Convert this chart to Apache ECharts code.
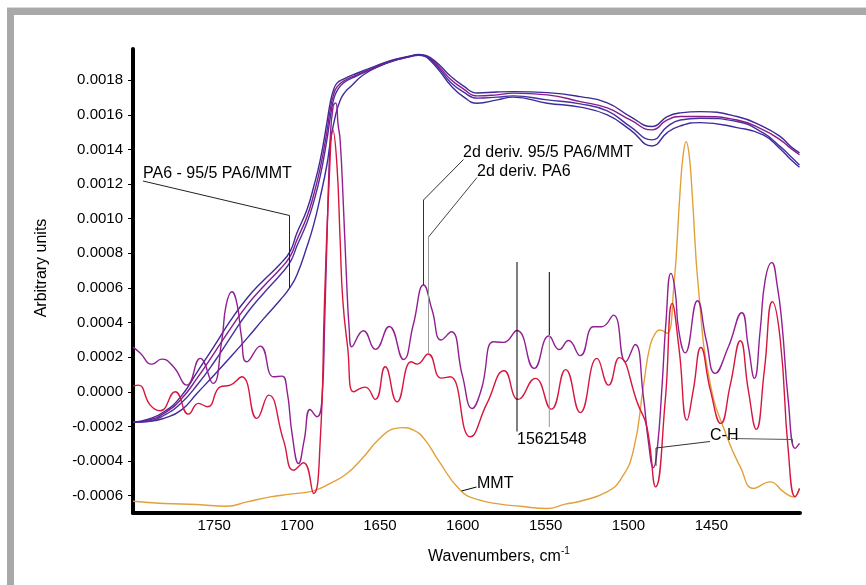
<!DOCTYPE html>
<html><head><meta charset="utf-8">
<script src="https://cdn.jsdelivr.net/npm/echarts@6/dist/echarts.min.js"></script>
<style>html,body{margin:0;padding:0;background:#fff}#c{width:866px;height:585px}</style>
</head><body><div id="c"></div>
<script>
// ---- tick labels ----
const xTicks = [1750, 1700, 1650, 1600, 1550, 1500, 1450];
const yTicks = [-0.0006, -0.0004, -0.0002, 0, 0.0002, 0.0004, 0.0006, 0.0008, 0.0010, 0.0012, 0.0014, 0.0016, 0.0018];

// ---- absorbance spectra (PA6 and 95/5 PA6/MMT) [wavenumber, value] ----
const absA = [[1798.9,-1.75e-4],[1789.8,-1.58e-4],[1780.0,-1.14e-4],[1769.9,-0.25e-4],[1760.3,1.14e-4],[1750.0,2.64e-4],[1740.0,4.14e-4],[1730.1,5.42e-4],[1720.0,6.46e-4],[1710.2,7.38e-4],[1704.1,8.13e-4],[1700.1,9.17e-4],[1694.1,10.50e-4],[1690.0,11.83e-4],[1686.0,13.39e-4],[1682.0,15.53e-4],[1680.0,16.69e-4],[1678.0,17.44e-4],[1675.9,17.83e-4],[1672.0,18.06e-4],[1663.9,18.40e-4],[1655.9,18.69e-4],[1643.8,19.13e-4],[1635.0,19.33e-4],[1631.7,19.40e-4],[1626.7,19.48e-4],[1623.0,19.44e-4],[1619.6,19.30e-4],[1613.6,18.83e-4],[1607.6,18.25e-4],[1599.7,17.67e-4],[1591.3,17.26e-4],[1579.2,17.32e-4],[1569.6,17.34e-4],[1549.0,17.28e-4],[1529.1,17.05e-4],[1512.8,16.69e-4],[1498.9,15.90e-4],[1485.8,15.32e-4],[1476.6,15.90e-4],[1468.7,16.11e-4],[1456.7,16.18e-4],[1434.5,15.90e-4],[1418.7,15.32e-4],[1408.4,14.74e-4],[1402.4,14.20e-4],[1396.8,13.80e-4]];
const absB = [[1798.9,-1.75e-4],[1789.8,-1.64e-4],[1780.0,-1.23e-4],[1769.9,-0.42e-4],[1760.3,0.79e-4],[1750.0,2.24e-4],[1740.0,3.68e-4],[1730.1,5.01e-4],[1720.0,6.11e-4],[1710.2,7.09e-4],[1704.1,7.84e-4],[1700.1,8.77e-4],[1694.1,10.10e-4],[1690.0,11.37e-4],[1686.0,12.93e-4],[1682.0,15.01e-4],[1680.0,16.28e-4],[1678.0,17.15e-4],[1675.9,17.61e-4],[1672.0,17.95e-4],[1663.9,18.31e-4],[1655.9,18.62e-4],[1643.8,19.09e-4],[1635.0,19.31e-4],[1631.7,19.38e-4],[1626.7,19.47e-4],[1623.0,19.42e-4],[1619.6,19.25e-4],[1613.6,18.71e-4],[1607.6,18.07e-4],[1599.7,17.50e-4],[1591.3,17.09e-4],[1579.2,17.15e-4],[1569.6,17.25e-4],[1549.0,17.15e-4],[1529.1,16.76e-4],[1512.8,16.40e-4],[1498.9,15.70e-4],[1485.8,15.13e-4],[1476.6,15.70e-4],[1468.7,15.90e-4],[1456.7,15.90e-4],[1434.5,15.70e-4],[1418.7,15.13e-4],[1408.4,14.55e-4],[1402.4,14.09e-4],[1396.8,13.69e-4]];
const absC = [[1798.9,-1.75e-4],[1789.8,-1.70e-4],[1780.0,-1.34e-4],[1769.9,-0.65e-4],[1760.3,0.39e-4],[1750.0,1.72e-4],[1740.0,3.16e-4],[1730.1,4.55e-4],[1720.0,5.71e-4],[1710.2,6.75e-4],[1704.1,7.50e-4],[1700.1,8.42e-4],[1694.1,9.75e-4],[1690.0,10.96e-4],[1686.0,12.47e-4],[1682.0,14.55e-4],[1680.0,15.82e-4],[1678.0,16.86e-4],[1675.9,17.38e-4],[1672.0,17.84e-4],[1663.9,18.25e-4],[1655.9,18.59e-4],[1643.8,19.06e-4],[1635.0,19.29e-4],[1631.7,19.36e-4],[1626.7,19.46e-4],[1623.0,19.40e-4],[1619.6,19.20e-4],[1613.6,18.60e-4],[1607.6,17.90e-4],[1599.7,17.32e-4],[1591.3,16.96e-4],[1579.2,17.02e-4],[1569.6,17.09e-4],[1549.0,16.86e-4],[1529.1,16.63e-4],[1512.8,16.22e-4],[1498.9,15.32e-4],[1485.8,14.55e-4],[1476.6,15.32e-4],[1468.7,15.70e-4],[1456.7,15.80e-4],[1434.5,15.61e-4],[1418.7,14.95e-4],[1408.4,14.16e-4],[1402.4,13.62e-4],[1396.8,13.10e-4]];
const absD = [[1798.9,-1.75e-4],[1789.8,-1.72e-4],[1780.0,-1.52e-4],[1769.9,-1.06e-4],[1760.3,-0.08e-4],[1750.0,0.97e-4],[1740.0,2.02e-4],[1730.1,3.10e-4],[1720.0,4.24e-4],[1710.2,5.30e-4],[1704.1,6.05e-4],[1700.1,6.75e-4],[1694.1,8.36e-4],[1690.0,9.64e-4],[1686.0,11.25e-4],[1682.0,13.10e-4],[1680.0,14.38e-4],[1677.0,15.88e-4],[1673.9,16.86e-4],[1670.9,17.32e-4],[1667.9,17.61e-4],[1659.9,18.31e-4],[1649.8,18.83e-4],[1637.7,19.23e-4],[1631.7,19.36e-4],[1626.7,19.44e-4],[1623.0,19.38e-4],[1619.6,19.13e-4],[1613.6,18.48e-4],[1607.6,17.73e-4],[1599.7,17.05e-4],[1591.3,16.67e-4],[1579.2,16.86e-4],[1569.6,17.02e-4],[1549.0,16.67e-4],[1529.1,16.44e-4],[1512.8,15.99e-4],[1498.9,15.13e-4],[1485.8,14.20e-4],[1476.6,14.97e-4],[1468.7,15.36e-4],[1456.7,15.55e-4],[1434.5,15.26e-4],[1418.7,14.84e-4],[1408.4,14.03e-4],[1402.4,13.45e-4],[1396.8,12.97e-4]];

// ---- second derivative, 95/5 PA6/MMT ----
const deriv95 = [[1798.9,2.58e-4],[1794.7,2.24e-4],[1787.6,1.60e-4],[1781.6,1.89e-4],[1774.6,1.445e-4],[1766.5,0.387e-4],[1758.4,1.93e-4],[1750.8,0.486e-4],[1745.4,2.99e-4],[1742.8,5.01e-4],[1739.3,5.78e-4],[1736.1,5.01e-4],[1733.7,3.28e-4],[1730.3,1.734e-4],[1722.2,2.64e-4],[1714.2,0.867e-4],[1709.1,0.907e-4],[1706.1,0.1e-4],[1702.9,-2.50e-4],[1699.1,-4.14e-4],[1695.7,-2.79e-4],[1692.1,-1.02e-4],[1688.0,-1.445e-4],[1685.0,-0.48e-4],[1683.3,4.14e-4],[1681.8,9.35e-4],[1680.0,14.55e-4],[1678.2,16.51e-4],[1676.7,16.69e-4],[1675.2,15.4e-4],[1674.0,14.54e-4],[1672.0,10.68e-4],[1670.3,6.86e-4],[1668.5,3.57e-4],[1667.0,2.60e-4],[1660.0,3.53e-4],[1652.7,2.45e-4],[1644.4,3.77e-4],[1635.8,1.87e-4],[1629.9,3.86e-4],[1623.6,6.17e-4],[1618.5,4.72e-4],[1613.0,2.99e-4],[1607.0,3.47e-4],[1600.3,0.965e-4],[1594.3,-0.96e-4],[1588.9,0.1e-4],[1581.4,2.89e-4],[1575.4,2.855e-4],[1567.3,3.54e-4],[1556.9,1.353e-4],[1548.0,3.22e-4],[1541.8,2.44e-4],[1536.2,2.96e-4],[1529.1,2.09e-4],[1521.1,3.76e-4],[1516.1,3.76e-4],[1509.1,4.43e-4],[1501.7,1.734e-4],[1496.0,2.73e-4],[1491.0,-0.29e-4],[1488.1,-2.79e-4],[1484.9,-4.38e-4],[1482.7,-3.37e-4],[1479.9,0.1e-4],[1477.3,4.14e-4],[1474.4,6.84e-4],[1471.9,5.88e-4],[1469.7,3.57e-4],[1465.8,2.25e-4],[1458.4,5.26e-4],[1453.1,2.99e-4],[1447.7,1.064e-4],[1439.7,2.60e-4],[1431.6,4.57e-4],[1427.8,2.70e-4],[1424.0,0.775e-4],[1420.5,3.57e-4],[1417.5,6.46e-4],[1413.5,7.46e-4],[1410.3,6.17e-4],[1407.4,3.95e-4],[1403.6,-0.48e-4],[1399.4,-3.27e-4],[1396.8,-2.98e-4]];

// ---- second derivative, PA6 ----
const derivPA6 = [[1798.9,0.33e-4],[1795.7,0.387e-4],[1788.6,-0.769e-4],[1782.6,-1.098e-4],[1773.5,0],[1765.5,-1.289e-4],[1759.5,-0.67e-4],[1754.0,-0.867e-4],[1746.4,0.289e-4],[1740.3,0.387e-4],[1733.3,0.867e-4],[1724.2,-1.537e-4],[1717.2,-0.191e-4],[1708.2,-2.79e-4],[1702.1,-4.53e-4],[1696.1,-4.10e-4],[1690.0,-5.87e-4],[1686.0,-2.79e-4],[1683.4,5.3e-4],[1680.6,12.24e-4],[1678.4,15.13e-4],[1676.0,13.2e-4],[1674.0,8.77e-4],[1672.4,5.3e-4],[1669.5,2.6e-4],[1665.9,0],[1658.9,0.27e-4],[1652.8,-0.44e-4],[1646.8,1.445e-4],[1639.7,-0.578e-4],[1631.1,1.734e-4],[1627.5,1.60e-4],[1620.9,2.18e-4],[1613.0,0.79e-4],[1607.6,0.867e-4],[1595.5,-2.60e-4],[1585.4,-0.67e-4],[1575.0,1.214e-4],[1566.5,-0.44e-4],[1556.3,0.775e-4],[1546.6,-1.0e-4],[1537.9,1.283e-4],[1529.1,-1.20e-4],[1519.0,1.93e-4],[1512.0,0.387e-4],[1505.6,1.977e-4],[1494.1,-0.769e-4],[1488.9,-2.02e-4],[1483.6,-5.49e-4],[1477.8,-0.48e-4],[1473.6,5.11e-4],[1469.4,2.41e-4],[1464.7,-1.636e-4],[1460.9,0.1e-4],[1456.3,2.555e-4],[1450.6,0.1e-4],[1444.3,-1.826e-4],[1438.6,0.39e-4],[1432.5,2.95e-4],[1427.7,0.1e-4],[1422.9,-2.17e-4],[1418.0,1.254e-4],[1413.2,5.2e-4],[1408.4,2.99e-4],[1403.6,-3.37e-4],[1399.4,-6.07e-4],[1396.8,-5.58e-4]];

// ---- MMT spectrum ----
const mmt = [[1798.9,-6.32e-4],[1780.6,-6.45e-4],[1760.4,-6.51e-4],[1742.3,-6.61e-4],[1730.3,-6.36e-4],[1716.2,-6.07e-4],[1704.1,-5.91e-4],[1690.1,-5.72e-4],[1680.0,-5.29e-4],[1669.9,-4.72e-4],[1659.9,-3.76e-4],[1651.1,-2.79e-4],[1642.6,-2.16e-4],[1636.5,-2.07e-4],[1629.7,-2.21e-4],[1622.7,-2.79e-4],[1614.8,-3.95e-4],[1601.5,-5.68e-4],[1590.7,-6.23e-4],[1577.4,-6.49e-4],[1565.3,-6.61e-4],[1549.2,-6.74e-4],[1538.2,-6.49e-4],[1529.1,-6.32e-4],[1513.0,-5.78e-4],[1504.4,-5.01e-4],[1497.0,-3.37e-4],[1490.9,0.387e-4],[1486.9,2.70e-4],[1483.3,3.45e-4],[1480.9,3.57e-4],[1476.8,3.38e-4],[1472.8,5.88e-4],[1468.8,11.66e-4],[1467.0,13.68e-4],[1465.2,14.45e-4],[1463.4,13.68e-4],[1461.7,11.66e-4],[1457.7,5.88e-4],[1450.7,0.486e-4],[1440.6,-2.60e-4],[1432.5,-4.34e-4],[1424.5,-5.58e-4],[1414.5,-5.20e-4],[1406.4,-5.78e-4],[1400.4,-6.07e-4],[1396.8,-5.58e-4]];

const FONT = '"Liberation Sans", Arial, Helvetica, sans-serif';
const chart = echarts.init(document.getElementById('c'));

function line(name, data, color, z) {
  return { type: 'line', name, data, showSymbol: false, symbol: 'none', smooth: 0.5,
    lineStyle: { color, width: 1.4 }, z, silent: true, animation: false };
}
function txt(text, x, y, size, align) {
  return { type: 'text', x, y, z: 100, style: { text, fill: '#000', fontSize: size || 16, fontFamily: FONT,
    align: align || 'left', verticalAlign: 'middle', textAlign: align || 'left', textVerticalAlign: 'middle' } };
}
function poly(points, color) {
  return { type: 'polyline', z: 90, shape: { points }, style: { stroke: color || '#000', lineWidth: 1, fill: null } };
}

chart.setOption({
  animation: false,
  backgroundColor: '#fff',
  grid: { left: 133, right: 66, top: 49, bottom: 72 },
  xAxis: {
    type: 'value', inverse: true, min: 1396.5, max: 1799,
    axisLine: { show: true, onZero: false, lineStyle: { color: '#000', width: 4 } },
    axisTick: { show: false }, splitLine: { show: false },
    axisLabel: { customValues: xTicks, formatter: v => String(v), color: '#000', fontSize: 15, fontFamily: FONT, margin: 5 }
  },
  yAxis: {
    type: 'value', min: -0.0007, max: 0.00198,
    axisLine: { show: true, onZero: false, lineStyle: { color: '#000', width: 4 } },
    axisTick: { show: true, customValues: yTicks, length: 5, lineStyle: { color: '#000', width: 1 } },
    splitLine: { show: false },
    axisLabel: { customValues: yTicks, formatter: v => v.toFixed(4), color: '#000', fontSize: 15, fontFamily: FONT, margin: 10 }
  },
  series: [
    line('MMT', mmt, '#e2a03a', 2),
    line('PA6 a', absD, '#3f2c9c', 3),
    line('PA6 b', absC, '#45319f', 3),
    line('95/5 a', absB, '#8a1a8c', 3),
    line('95/5 b', absA, '#3b2a98', 3),
    line('2d deriv. 95/5 PA6/MMT', deriv95, '#921f92', 4),
    line('2d deriv. PA6', derivPA6, '#d6163e', 5)
  ],
  graphic: [
    { type: 'rect', shape: { x: 7, y: 7, width: 859, height: 1 }, style: { fill: '#d9d9d9' } },
    { type: 'rect', shape: { x: 7, y: 8, width: 859, height: 7 }, style: { fill: '#a9a9a9' } },
    { type: 'rect', shape: { x: 7, y: 8, width: 7, height: 577 }, style: { fill: '#a9a9a9' } },
    Object.assign(txt('Arbitrary units', 42, 268, 16, 'center'), { rotation: Math.PI / 2 }),
    txt('Wavenumbers, cm', 428, 557, 16),
    txt('-1', 561, 551, 10),
    txt('PA6 - 95/5 PA6/MMT', 143, 174, 16),
    poly([[143, 181], [289.5, 215.5], [289.5, 288]], '#222'),
    txt('2d deriv. 95/5 PA6/MMT', 463, 153, 16),
    poly([[463.5, 159.5], [423.5, 200], [423.5, 285]], '#333'),
    txt('2d deriv. PA6', 477, 172, 16),
    poly([[477, 177.5], [428.5, 237]], '#444'),
    poly([[428.5, 237], [428.5, 354]], '#999'),
    poly([[517, 262], [517, 431.5]], '#000'),
    poly([[549.3, 272], [549.3, 335]], '#000'),
    poly([[549.3, 335], [549.3, 427]], '#999'),
    txt('1562', 517, 440, 16),
    txt('1548', 551, 440, 16),
    txt('MMT', 477, 484, 16),
    poly([[476.5, 487], [461.5, 491]], '#000'),
    txt('C-H', 710, 436, 16),
    poly([[710, 441.5], [656, 448], [656, 466]], '#333'),
    poly([[731, 438.5], [792.5, 439.5], [792.5, 443]], '#555')
  ]
});
</script></body></html>
